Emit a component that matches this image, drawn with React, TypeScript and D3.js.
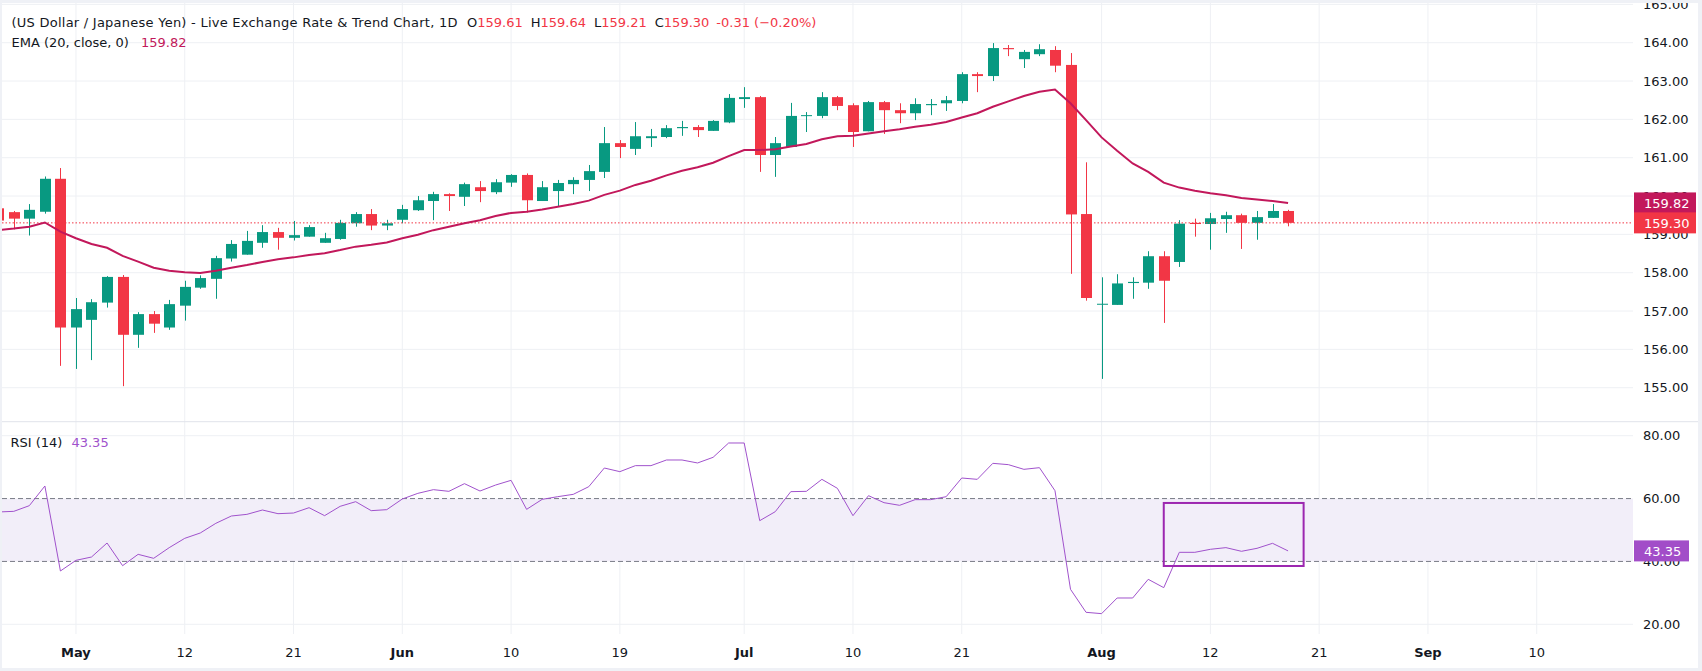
import React from 'react';
import * as d3 from 'd3';

// daily bars, bar -1 .. 82 (bar -1 is cut by the left edge)
const FIRST_BAR = -1;

const opens = [
  159.68, 159.58, 159.41, 159.59, 160.45, 156.57, 156.77, 157.22, 157.89, 156.38,
  156.92, 156.57, 157.14, 157.61, 157.84, 158.37, 158.47, 158.78, 159.06, 158.91,
  158.94, 158.78, 158.88, 159.29, 159.53, 159.23, 159.38, 159.63, 159.87, 160.05,
  159.98, 160.23, 160.1, 160.35, 160.55, 159.87, 160.13, 160.31, 160.42, 160.63,
  161.38, 161.23, 161.51, 161.54, 161.77, 161.8, 161.7, 161.92, 162.53, 162.58,
  161.07, 161.28, 162.09, 162.09, 162.58, 162.37, 161.69, 162.45, 162.24, 162.16,
  162.37, 162.42, 162.48, 163.18, 163.13, 163.86, 163.57, 163.7, 163.81, 163.42,
  159.53, 157.17, 157.16, 157.73, 157.74, 158.43, 158.28, 159.3, 159.27, 159.4,
  159.5, 159.3, 159.43, 159.61,
];
const highs = [
  159.72, 159.61, 159.79, 160.51, 160.73, 157.34, 157.31, 157.91, 157.94, 156.97,
  157.0, 157.29, 157.79, 157.93, 158.44, 158.85, 159.09, 159.24, 159.17, 159.35,
  159.24, 159.04, 159.38, 159.58, 159.66, 159.38, 159.77, 160.0, 160.11, 160.07,
  160.35, 160.39, 160.44, 160.57, 160.59, 160.39, 160.42, 160.49, 160.81, 161.8,
  161.46, 161.93, 161.75, 161.85, 161.96, 161.85, 161.98, 162.66, 162.84, 162.61,
  161.54, 162.43, 162.19, 162.71, 162.61, 162.42, 162.48, 162.48, 162.42, 162.55,
  162.53, 162.61, 163.23, 163.23, 163.99, 163.94, 163.81, 163.96, 163.91, 163.73,
  160.88, 157.88, 157.96, 157.88, 158.56, 158.56, 159.37, 159.41, 159.56, 159.59,
  159.54, 159.61, 159.79, 159.64,
];
const lows = [
  159.3, 159.13, 158.97, 159.54, 155.57, 155.49, 155.72, 157.09, 155.04, 156.04,
  156.43, 156.51, 156.75, 157.58, 157.32, 158.29, 158.47, 158.65, 158.6, 158.84,
  158.94, 158.78, 158.86, 159.2, 159.11, 159.11, 159.29, 159.61, 159.37, 159.61,
  159.74, 159.84, 160.05, 160.24, 159.57, 159.87, 159.74, 160.05, 160.13, 160.47,
  160.99, 161.07, 161.28, 161.51, 161.57, 161.54, 161.7, 161.9, 162.3, 160.63,
  160.5, 161.28, 161.67, 162.03, 162.24, 161.28, 161.69, 161.62, 161.9, 161.98,
  162.11, 162.22, 162.42, 162.71, 163.0, 163.65, 163.34, 163.65, 163.23, 157.97,
  157.27, 155.23, 157.16, 157.32, 157.58, 156.69, 158.15, 158.94, 158.6, 159.04,
  158.62, 158.86, 159.43, 159.21,
];
const closes = [
  159.36, 159.41, 159.64, 160.45, 156.57, 157.05, 157.23, 157.89, 156.38, 156.92,
  156.67, 157.18, 157.63, 157.86, 158.38, 158.75, 158.83, 159.06, 158.91, 158.98,
  159.19, 158.9, 159.3, 159.53, 159.23, 159.29, 159.66, 159.89, 160.05, 160.0,
  160.31, 160.13, 160.36, 160.55, 159.89, 160.23, 160.34, 160.42, 160.65, 161.38,
  161.28, 161.56, 161.56, 161.77, 161.8, 161.72, 161.96, 162.56, 162.58, 161.07,
  161.38, 162.09, 162.11, 162.58, 162.35, 161.67, 162.45, 162.24, 162.16, 162.4,
  162.4, 162.5, 163.18, 163.13, 163.86, 163.83, 163.76, 163.83, 163.4, 159.52,
  157.34, 157.19, 157.72, 157.76, 158.43, 157.79, 159.28, 159.27, 159.42, 159.5,
  159.3, 159.45, 159.61, 159.3,
];
const ema20 = [
  159.11, 159.15, 159.2, 159.31, 159.07, 158.9, 158.75, 158.65, 158.44, 158.29,
  158.13, 158.05, 158.01, 157.99, 158.05, 158.13, 158.2, 158.28, 158.35, 158.4,
  158.46, 158.51, 158.59, 158.68, 158.73, 158.79, 158.9, 158.99, 159.11, 159.2,
  159.29, 159.37, 159.48, 159.56, 159.59, 159.65, 159.72, 159.79, 159.88, 160.03,
  160.14, 160.29, 160.4, 160.54, 160.66, 160.75, 160.87, 161.04, 161.2, 161.2,
  161.22, 161.29, 161.36, 161.48, 161.56, 161.57, 161.63, 161.69, 161.74, 161.81,
  161.86, 161.93, 162.05, 162.16, 162.33, 162.47, 162.61, 162.72, 162.78, 162.42,
  161.98, 161.53, 161.18, 160.85, 160.63, 160.35, 160.22, 160.14, 160.07, 160.02,
  159.95, 159.91, 159.87, 159.82,
];
const rsi14 = [
  55.73, 55.94, 57.74, 64.0, 36.96, 40.35, 41.41, 45.86, 38.65, 42.26,
  40.99, 44.38, 47.35, 49.05, 52.12, 54.45, 54.98, 56.36, 55.19, 55.4,
  57.1, 54.56, 57.53, 59.01, 56.15, 56.47, 59.86, 61.66, 62.83, 62.3,
  64.74, 62.4, 64.3, 65.8, 56.57, 59.75, 60.6, 61.34, 63.78, 69.72,
  68.56, 70.47, 70.47, 72.27, 72.27, 71.32, 73.12, 77.68, 77.68, 52.97,
  55.83, 62.2, 62.3, 66.12, 63.25, 54.56, 60.92, 58.69, 57.85, 59.65,
  59.65, 60.6, 66.54, 66.12, 71.21, 70.79, 69.3, 69.83, 62.51, 31.13,
  23.81, 23.39, 28.37, 28.37, 34.31, 31.66, 42.9, 42.9, 43.86, 44.39,
  43.22, 44.17, 45.76, 43.35,
];

// time axis labels, placed on bar numbers
const timeTicks = [
  { bar: 4, label: 'May', month: true },
  { bar: 11, label: '12', month: false },
  { bar: 18, label: '21', month: false },
  { bar: 25, label: 'Jun', month: true },
  { bar: 32, label: '10', month: false },
  { bar: 39, label: '19', month: false },
  { bar: 47, label: 'Jul', month: true },
  { bar: 54, label: '10', month: false },
  { bar: 61, label: '21', month: false },
  { bar: 70, label: 'Aug', month: true },
  { bar: 77, label: '12', month: false },
  { bar: 84, label: '21', month: false },
  { bar: 91, label: 'Sep', month: true },
  { bar: 98, label: '10', month: false },
];
const priceTicks = [155, 156, 157, 158, 159, 160, 161, 162, 163, 164, 165];
const rsiGrid = [20, 80];
const rsiBand = [40, 60];
const rsiLabels = [20, 40, 60, 80];

// highlighted box on the RSI pane (bars, RSI values)
const boxBars = [74, 83];
const boxRsi = [38.55, 58.6];

const W = 1702;
const H = 671;
const FONT = '"DejaVu Sans", Verdana, sans-serif';
const GREEN = '#089981';
const RED = '#f23645';
const EMA_C = '#c2185b';
const RSI_C = '#a052cc';
const GRID = '#eef0f4';
const TEXT = '#131722';

const plotL = 2;
const plotR = 1633;
const topY = 3;
const splitY = 421.7;
const rsiBottom = 634;
const axisX = 1643;

export default function App() {
  const x = d3.scaleLinear().domain([0, 98]).range([13.8, 13.8 + 98 * 15.54]);
  const y = d3.scaleLinear().domain([155, 164]).range([387.7, 42.7]);
  const yr = d3.scaleLinear().domain([20, 80]).range([624.3, 435.7]);

  const bars = closes.map((c, k) => ({
    i: k + FIRST_BAR,
    o: opens[k],
    h: highs[k],
    l: lows[k],
    c,
    ema: ema20[k],
    rsi: rsi14[k],
  }));
  const last = bars[bars.length - 1];

  const emaLine = d3
    .line<(typeof bars)[number]>()
    .x((d) => x(d.i))
    .y((d) => y(d.ema));
  const rsiLine = d3
    .line<(typeof bars)[number]>()
    .x((d) => x(d.i))
    .y((d) => yr(d.rsi));

  const bodyW = 11;

  return (
    <svg
      width={W}
      height={H}
      style={{ position: 'absolute', left: 0, top: 0, fontFamily: FONT }}
    >
      <defs>
        <clipPath id="pricePane">
          <rect x={plotL} y={topY} width={plotR - plotL} height={splitY - topY} />
        </clipPath>
        <clipPath id="rsiPane">
          <rect x={plotL} y={splitY} width={plotR - plotL} height={rsiBottom - splitY} />
        </clipPath>
      </defs>
      <rect x={0} y={0} width={W} height={H} fill="#fff" />

      {/* vertical grid */}
      {timeTicks.map((t) => (
        <line
          key={'vg' + t.bar}
          x1={x(t.bar)}
          x2={x(t.bar)}
          y1={topY}
          y2={rsiBottom}
          stroke={GRID}
        />
      ))}
      {/* horizontal grid, price pane */}
      {priceTicks.map((p) => (
        <line key={'hg' + p} x1={plotL} x2={plotR} y1={y(p)} y2={y(p)} stroke={GRID} />
      ))}
      {/* RSI pane grid + band */}
      {rsiGrid.map((v) => (
        <line key={'rg' + v} x1={plotL} x2={plotR} y1={yr(v)} y2={yr(v)} stroke={GRID} />
      ))}
      <rect
        x={plotL}
        y={yr(rsiBand[1])}
        width={plotR - plotL}
        height={yr(rsiBand[0]) - yr(rsiBand[1])}
        fill="#f2eef9"
      />
      {rsiBand.map((v) => (
        <line
          key={'rb' + v}
          x1={plotL}
          x2={plotR}
          y1={yr(v)}
          y2={yr(v)}
          stroke="#787b86"
          strokeDasharray="5 3"
        />
      ))}

      {/* candles */}
      <g clipPath="url(#pricePane)">
        {bars.map((d) => {
          const up = d.c >= d.o;
          const col = up ? GREEN : RED;
          const cx = Math.round(x(d.i)) + 0.5;
          const top = y(Math.max(d.o, d.c));
          const bot = y(Math.min(d.o, d.c));
          return (
            <g key={'c' + d.i}>
              <line x1={cx} x2={cx} y1={y(d.h)} y2={y(d.l)} stroke={col} strokeWidth={1} />
              <rect
                x={cx - bodyW / 2}
                y={top}
                width={bodyW}
                height={Math.max(1, bot - top)}
                fill={col}
              />
            </g>
          );
        })}
        <line
          x1={plotL}
          x2={plotR}
          y1={y(last.c)}
          y2={y(last.c)}
          stroke={RED}
          strokeDasharray="1.5 2"
        />
        <path d={emaLine(bars) ?? ''} fill="none" stroke={EMA_C} strokeWidth={2} />
      </g>

      {/* RSI line */}
      <g clipPath="url(#rsiPane)">
        <path d={rsiLine(bars) ?? ''} fill="none" stroke={RSI_C} strokeWidth={1} />
      </g>
      <rect
        x={x(boxBars[0])}
        y={yr(boxRsi[1])}
        width={x(boxBars[1]) - x(boxBars[0])}
        height={yr(boxRsi[0]) - yr(boxRsi[1])}
        fill="none"
        stroke="#9c27b0"
        strokeWidth={2}
      />

      {/* pane separator */}
      <line x1={0} x2={W} y1={splitY} y2={splitY} stroke="#e0e3eb" />

      {/* price axis */}
      {priceTicks.map((p) => (
        <text key={'pt' + p} x={axisX} y={y(p) + 4.7} fontSize={13} fill={TEXT}>
          {p.toFixed(2)}
        </text>
      ))}
      {rsiLabels.map((v) => (
        <text key={'rt' + v} x={axisX} y={yr(v) + 4.7} fontSize={13} fill={TEXT}>
          {v.toFixed(2)}
        </text>
      ))}

      {/* last value badges */}
      <rect x={plotR + 1} y={y(last.ema) - 10.5} width={62} height={21} fill={EMA_C} />
      <text x={axisX + 1} y={y(last.ema) + 4.7} fontSize={13} fill="#fff">
        {last.ema.toFixed(2)}
      </text>
      <rect x={plotR + 1} y={y(last.c) - 10.5} width={62} height={21} fill={RED} />
      <text x={axisX + 1} y={y(last.c) + 4.7} fontSize={13} fill="#fff">
        {last.c.toFixed(2)}
      </text>
      <rect x={plotR + 1} y={yr(last.rsi) - 10.5} width={55} height={21} fill="#a24dc8" />
      <text x={axisX + 1} y={yr(last.rsi) + 4.7} fontSize={13} fill="#fff">
        {last.rsi.toFixed(2)}
      </text>

      {/* time axis */}
      {timeTicks.map((t) => (
        <text
          key={'tt' + t.bar}
          x={x(t.bar)}
          y={657}
          textAnchor="middle"
          fontSize={13}
          fontWeight={t.month ? 700 : 400}
          fill={TEXT}
        >
          {t.label}
        </text>
      ))}

      {/* legends */}
      <text
        x={11.5}
        y={26.5}
        fontSize={13}
        fill={TEXT}
        textLength={446}
        lengthAdjust="spacing"
      >
        (US Dollar / Japanese Yen) - Live Exchange Rate &amp; Trend Chart, 1D
      </text>
      <text x={467} y={26.5} fontSize={13} fill={TEXT}>
        <tspan>O</tspan>
        <tspan fill={RED}>{last.o.toFixed(2)}</tspan>
        <tspan dx={8}>H</tspan>
        <tspan fill={RED}>{last.h.toFixed(2)}</tspan>
        <tspan dx={8}>L</tspan>
        <tspan fill={RED}>{last.l.toFixed(2)}</tspan>
        <tspan dx={8}>C</tspan>
        <tspan fill={RED}>{last.c.toFixed(2)}</tspan>
        <tspan dx={7} fill={RED}>
          -0.31 (−0.20%)
        </tspan>
      </text>
      <text x={11.5} y={46.7} fontSize={13} fill={TEXT}>
        <tspan>EMA (20, close, 0)</tspan>
        <tspan dx={12} fill={EMA_C}>
          {last.ema.toFixed(2)}
        </tspan>
      </text>
      <text x={10.5} y={446.5} fontSize={13} fill={TEXT}>
        <tspan>RSI (14)</tspan>
        <tspan dx={9} fill={RSI_C}>
          {last.rsi.toFixed(2)}
        </tspan>
      </text>

      {/* outer frame */}
      <rect x={0} y={0} width={W} height={topY} fill="#eff1f6" />
      <rect x={0} y={0} width={plotL} height={H} fill="#eff1f6" />
      <rect x={1698} y={0} width={4} height={H} fill="#eff1f6" />
      <rect x={0} y={668} width={W} height={3} fill="#eff1f6" />
    </svg>
  );
}
